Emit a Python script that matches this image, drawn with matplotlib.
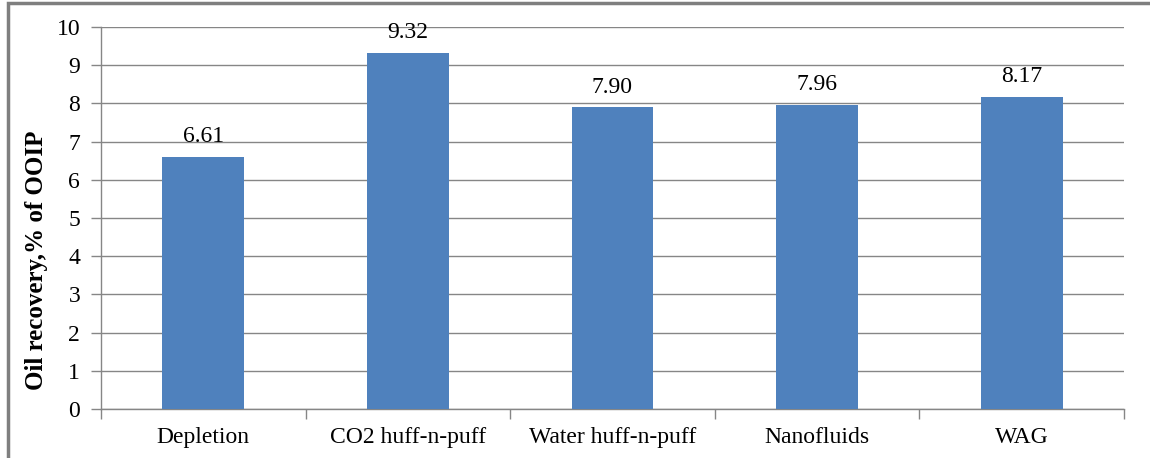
import matplotlib

matplotlib.use("Agg")
import matplotlib.pyplot as plt  # noqa: E402
from matplotlib.patches import Rectangle  # noqa: E402

categorias = ["Depletion", "CO2 huff-n-puff", "Water huff-n-puff", "Nanofluids", "WAG"]
recuperacao = [6.61, 9.32, 7.90, 7.96, 8.17]
rotulos = ["6.61", "9.32", "7.90", "7.96", "8.17"]
yticks = list(range(0, 11))

AZUL = "#4F81BD"
CINZA = "#868686"
FS = 17

plt.rcParams["font.family"] = ["Liberation Serif", "DejaVu Serif"]

fig = plt.figure(figsize=(11.5, 4.58), dpi=100)
ax = fig.add_axes([0.0878, 0.107, 0.8896, 0.834])

x = list(range(len(categorias)))
ax.bar(x, recuperacao, width=0.4, color=AZUL, zorder=3)
for xi, v, r in zip(x, recuperacao, rotulos):
    ax.annotate(r, (xi, v), xytext=(0, 7), textcoords="offset points",
                ha="center", va="bottom", fontsize=FS)

ax.set_xlim(-0.5, len(categorias) - 0.5)
ax.set_ylim(0, 10)
ax.set_yticks(yticks)
ax.tick_params(axis="y", labelsize=FS, length=7, color=CINZA, width=1, pad=8)
ax.yaxis.grid(True, color=CINZA, linewidth=1, zorder=0)

# ticks do eixo x nas divisas entre categorias
ax.set_xticks([i - 0.5 for i in range(len(categorias) + 1)])
ax.set_xticklabels([])
ax.set_xticks(x, minor=True)
ax.set_xticklabels(categorias, minor=True, fontsize=FS)
ax.tick_params(axis="x", which="major", length=7, color=CINZA, width=1)
ax.tick_params(axis="x", which="minor", length=0, pad=13)

for lado in ("top", "right"):
    ax.spines[lado].set_visible(False)
for lado in ("left", "bottom"):
    ax.spines[lado].set_color(CINZA)
    ax.spines[lado].set_linewidth(1)

ax.set_ylabel("Oil recovery,% of OOIP", fontsize=18, fontweight="bold")
ax.yaxis.set_label_coords(-0.052, 0.39)

# moldura externa (só topo e esquerda aparecem no recorte)
fig.patches.append(Rectangle((8 / 1150, -0.1), 1.2, 1 - 3 / 458 + 0.1,
                             transform=fig.transFigure, fill=False,
                             edgecolor="#7f7f7f", linewidth=2.5))

fig.savefig("out.png", dpi=100)
